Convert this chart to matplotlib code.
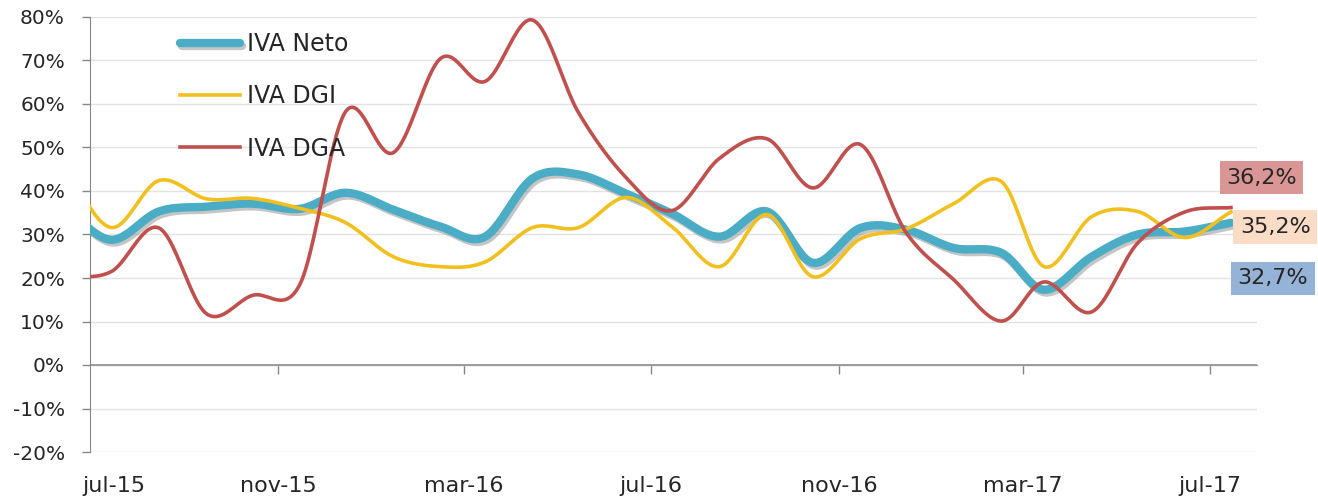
import matplotlib.pyplot as plt
import matplotlib.patheffects as pe
import matplotlib.dates as mdates
import matplotlib.transforms as mtransforms
import numpy as np

####### DATA #######

# monthly points (mid-month); jun-15 falls just left of the axis and is clipped
months = ['2015-06-15', '2015-07-15', '2015-08-15', '2015-09-15', '2015-10-15', '2015-11-15',
          '2015-12-15', '2016-01-15', '2016-02-15', '2016-03-15', '2016-04-15', '2016-05-15',
          '2016-06-15', '2016-07-15', '2016-08-15', '2016-09-15', '2016-10-15', '2016-11-15',
          '2016-12-15', '2017-01-15', '2017-02-15', '2017-03-15', '2017-04-15', '2017-05-15',
          '2017-06-15', '2017-07-15']
tick_dates = ['2015-07-01', '2015-11-01', '2016-03-01', '2016-07-01', '2016-11-01', '2017-03-01', '2017-07-01']
tick_labels = ['jul-15', 'nov-15', 'mar-16', 'jul-16', 'nov-16', 'mar-17', 'jul-17']

iva_neto = [36.0, 28.8, 35.3, 36.4, 37.1, 35.9, 39.6, 35.7, 31.8, 29.5, 42.9, 43.8, 39.4,
            34.8, 29.5, 35.3, 23.5, 31.5, 31.1, 26.9, 25.8, 17.3, 24.9, 30.0, 30.7, 32.7]
iva_dgi = [45.0, 31.6, 42.4, 38.2, 38.3, 36.0, 32.7, 24.9, 22.6, 23.7, 31.6, 31.6, 38.5,
           31.8, 22.6, 34.6, 20.3, 29.0, 31.3, 37.1, 42.2, 22.6, 34.1, 35.3, 29.3, 35.2]
iva_dga = [20.2, 21.5, 31.5, 11.8, 16.0, 18.5, 58.3, 48.8, 70.5, 65.2, 79.3, 58.0, 43.1,
           35.5, 47.5, 52.0, 40.7, 50.7, 30.4, 19.6, 10.1, 19.1, 12.2, 28.0, 35.2, 36.2]

end_labels = ['32,7%', '35,2%', '36,2%']

####### STYLE #######

c_neto = '#4bacc6'
c_dgi = '#f2c01e'
c_dga = '#c0504d'
c_txt = '#262626'
c_axis = '#868686'
plt.rcParams['font.family'] = ['DejaVu Sans']


def smooth(x, y, n=24):
    """Catmull-Rom curve through the points, like Excel's smoothed line."""
    x = np.asarray(x, float)
    y = np.asarray(y, float)
    px = np.concatenate([[2 * x[0] - x[1]], x, [2 * x[-1] - x[-2]]])
    py = np.concatenate([[2 * y[0] - y[1]], y, [2 * y[-1] - y[-2]]])
    t = np.linspace(0, 1, n, endpoint=False)
    xs, ys = [], []
    for i in range(1, len(px) - 2):
        for p, out in ((px, xs), (py, ys)):
            p0, p1, p2, p3 = p[i - 1], p[i], p[i + 1], p[i + 2]
            out.extend(0.5 * (2 * p1 + (-p0 + p2) * t + (2 * p0 - 5 * p1 + 4 * p2 - p3) * t ** 2
                              + (-p0 + 3 * p1 - 3 * p2 + p3) * t ** 3))
    xs.append(x[-1])
    ys.append(y[-1])
    return np.array(xs), np.array(ys)


####### PLOT #######

fig = plt.figure(figsize=(13.18, 4.99), dpi=100)
ax = fig.add_axes([90 / 1318, 1 - 452 / 499, (1257 - 90) / 1318, (452 - 17) / 499])

x = mdates.date2num(np.array(months, dtype='datetime64[D]'))
ticks = mdates.date2num(np.array(tick_dates, dtype='datetime64[D]'))

xs, ys = smooth(x, iva_neto)
ax.plot(xs, ys, color=c_neto, lw=6, solid_capstyle='round', label='IVA Neto', zorder=3,
        path_effects=[pe.SimpleLineShadow(offset=(1.5, -2), shadow_color='#808080', alpha=0.45),
                      pe.Normal()])
xs, ys = smooth(x, iva_dgi)
ax.plot(xs, ys, color=c_dgi, lw=2.6, label='IVA DGI', zorder=4)
xs, ys = smooth(x, iva_dga)
ax.plot(xs, ys, color=c_dga, lw=2.6, label='IVA DGA', zorder=5)

# end-of-series value boxes
box_specs = [(iva_neto[-1], end_labels[0], '#95b3d7', (30, -40)),
             (iva_dgi[-1], end_labels[1], '#fbdcc6', (32, -11)),
             (iva_dga[-1], end_labels[2], '#d99694', (22, 21.5))]
for val, txt, bg, off in box_specs:
    ax.annotate(txt, xy=(x[-1], val), xytext=off, textcoords='offset points',
                ha='center', va='center', fontsize=16, color=c_txt,
                bbox=dict(boxstyle='square,pad=0.3', fc=bg, ec='none'),
                annotation_clip=False, zorder=6)

ax.set_ylim(-20, 80)
ax.set_xlim(ticks[0], mdates.date2num(np.datetime64('2017-08-01')))
ax.set_yticks(np.arange(-20, 81, 10))
ax.set_yticklabels([f'{v}%' for v in range(-20, 81, 10)])
ax.yaxis.grid(True, color='#e3e3e3', lw=1)
ax.set_axisbelow(True)

ax.set_xticks(ticks)
ax.set_xticklabels(tick_labels)
ax.tick_params(axis='x', length=0, labelsize=16, colors=c_txt, pad=17)
ax.tick_params(axis='y', length=6, width=1, color=c_axis, labelsize=14.5, colors=c_txt, pad=12)
first = ax.get_xticklabels()[0]
first.set_horizontalalignment('left')
first.set_transform(first.get_transform() + mtransforms.ScaledTranslation(-8 / 100, 0, fig.dpi_scale_trans))

for s in ['top', 'right', 'bottom']:
    ax.spines[s].set_visible(False)
ax.spines['left'].set_color(c_axis)

# horizontal axis crossing at 0%
ax.axhline(0, color=c_axis, lw=1.1, zorder=2)
zero_ax = ax.secondary_xaxis(0.2)
zero_ax.set_xticks(ticks[1:])
zero_ax.tick_params(axis='x', direction='out', length=6.5, width=1, color=c_axis, labelbottom=False)
zero_ax.spines['bottom'].set_color(c_axis)

leg = ax.legend(loc='upper left', bbox_to_anchor=(180 / 1318, 1 - 32 / 499),
                bbox_transform=fig.transFigure, frameon=False, fontsize=17,
                handlelength=2.55, handletextpad=0.3, labelspacing=1.2, borderpad=0, borderaxespad=0)
for t in leg.get_texts():
    t.set_color(c_txt)

fig.savefig('out.png', dpi=100)
